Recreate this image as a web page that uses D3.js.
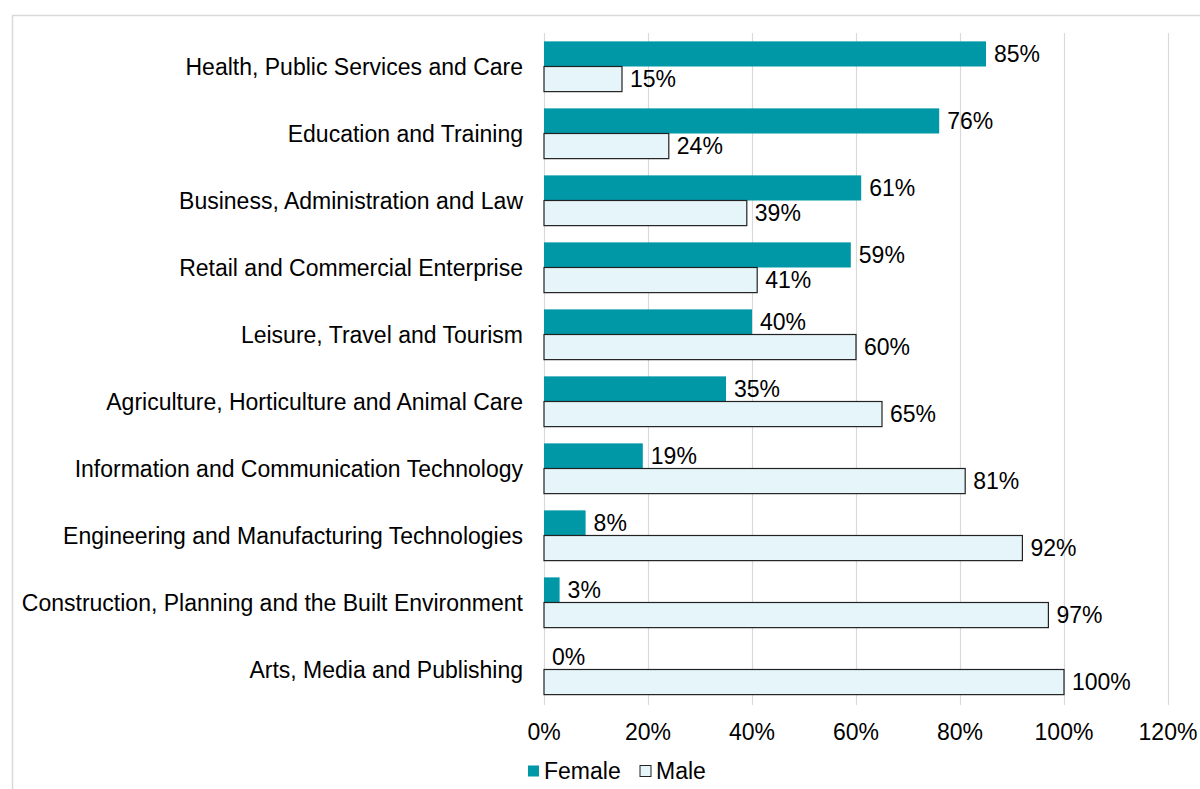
<!DOCTYPE html>
<html>
<head>
<meta charset="utf-8">
<script src="https://cdn.jsdelivr.net/npm/d3@7"></script>
<style>
  body { margin: 0; background: #fff; }
  svg { display: block; font-family: "Liberation Sans", Arial, sans-serif; }
</style>
</head>
<body>
<div id="chart"></div>
<script>
var categories = [
  "Health, Public Services and Care",
  "Education and Training",
  "Business, Administration and Law",
  "Retail and Commercial Enterprise",
  "Leisure, Travel and Tourism",
  "Agriculture, Horticulture and Animal Care",
  "Information and Communication Technology",
  "Engineering and Manufacturing Technologies",
  "Construction, Planning and the Built Environment",
  "Arts, Media and Publishing"
];
var female = [85, 76, 61, 59, 40, 35, 19, 8, 3, 0];
var male = [15, 24, 39, 41, 60, 65, 81, 92, 97, 100];
var seriesNames = ["Female", "Male"];
var xTicks = [0, 20, 40, 60, 80, 100, 120];

var W = 1200, H = 789;
var margin = {top: 33, left: 544, right: 32, bottom: 86};
var fs = 23;

var svg = d3.select("#chart").append("svg")
    .attr("width", W)
    .attr("height", H);

// outer frame
svg.append("rect")
    .attr("x", 12.5).attr("y", 15.5)
    .attr("width", W).attr("height", H)
    .attr("fill", "none")
    .attr("stroke", "#d9d9d9")
    .attr("stroke-width", 1.5);

var x = d3.scaleLinear()
    .domain([0, 120])
    .range([margin.left, margin.left + 624]);

var y = d3.scaleBand()
    .domain(categories)
    .range([margin.top, H - margin.bottom])
    .paddingInner(0.25)
    .paddingOuter(0.125);

var sub = d3.scaleBand()
    .domain(seriesNames)
    .range([0, y.bandwidth()]);

var color = {Female: "#0097a7", Male: "#e6f5f9"};

// gridlines
svg.append("g")
  .selectAll("line")
  .data(xTicks)
  .join("line")
    .attr("x1", function(d) { return Math.round(x(d)) + 0.5; })
    .attr("x2", function(d) { return Math.round(x(d)) + 0.5; })
    .attr("y1", margin.top)
    .attr("y2", H - margin.bottom + 2)
    .attr("stroke", "#d9d9d9")
    .attr("stroke-width", 1.2);

// x axis labels
svg.append("g")
  .selectAll("text")
  .data(xTicks)
  .join("text")
    .attr("x", function(d) { return x(d); })
    .attr("y", 732)
    .attr("dy", "0.35em")
    .attr("text-anchor", "middle")
    .attr("font-size", fs)
    .attr("fill", "#000")
    .text(function(d) { return d + "%"; });

// category labels
svg.append("g")
  .selectAll("text")
  .data(categories)
  .join("text")
    .attr("x", margin.left - 21)
    .attr("y", function(d) { return y(d) + y.bandwidth() / 2; })
    .attr("dy", "0.35em")
    .attr("text-anchor", "end")
    .attr("font-size", fs)
    .attr("fill", "#000")
    .text(function(d) { return d; });

var rows = categories.map(function(c, i) {
  return {cat: c, vals: [{s: "Female", v: female[i]}, {s: "Male", v: male[i]}]};
});

var g = svg.append("g")
  .selectAll("g")
  .data(rows)
  .join("g")
    .attr("transform", function(d) { return "translate(0," + y(d.cat) + ")"; });

g.selectAll("rect")
  .data(function(d) { return d.vals; })
  .join("rect")
    .attr("x", x(0))
    .attr("y", function(d) { return sub(d.s); })
    .attr("width", function(d) { return x(d.v) - x(0); })
    .attr("height", sub.bandwidth())
    .attr("fill", function(d) { return color[d.s]; })
    .attr("stroke", function(d) { return d.s === "Male" ? "#222" : "none"; })
    .attr("stroke-width", 1.2);

g.selectAll("text")
  .data(function(d) { return d.vals; })
  .join("text")
    .attr("x", function(d) { return x(d.v) + 8; })
    .attr("y", function(d) { return sub(d.s) + sub.bandwidth() / 2; })
    .attr("dy", "0.35em")
    .attr("font-size", fs)
    .attr("fill", "#000")
    .text(function(d) { return d.v + "%"; });

// legend
var legend = svg.append("g").attr("transform", "translate(528,771)");
var items = [{s: "Female", x: 0}, {s: "Male", x: 112}];
items.forEach(function(it) {
  legend.append("rect")
      .attr("x", it.x).attr("y", -5.5)
      .attr("width", 11).attr("height", 11)
      .attr("fill", color[it.s])
      .attr("stroke", it.s === "Male" ? "#222" : "none")
      .attr("stroke-width", 1);
  legend.append("text")
      .attr("x", it.x + 16).attr("y", 0)
      .attr("dy", "0.35em")
      .attr("font-size", fs)
      .attr("fill", "#000")
      .text(it.s);
});
</script>
</body>
</html>
